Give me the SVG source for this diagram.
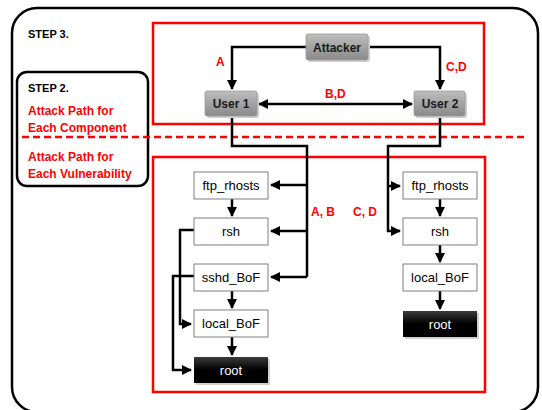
<svg xmlns="http://www.w3.org/2000/svg" width="542" height="410" viewBox="0 0 542 410">
<defs>
<linearGradient id="gg" x1="0" y1="0" x2="0" y2="1"><stop offset="0" stop-color="#bdbdbd"/><stop offset="1" stop-color="#8a8a8a"/></linearGradient>
<linearGradient id="bg" x1="0" y1="0" x2="0" y2="1"><stop offset="0" stop-color="#3a3a3a"/><stop offset="0.5" stop-color="#000"/><stop offset="1" stop-color="#000"/></linearGradient>
<marker id="ah" viewBox="0 0 10 10" refX="9" refY="5" markerWidth="4" markerHeight="4" orient="auto"><path d="M0,0 L10,5 L0,10 z" fill="#000"/></marker>
<marker id="ahs" viewBox="0 0 10 10" refX="9" refY="5" markerWidth="4" markerHeight="4" orient="auto-start-reverse"><path d="M0,0 L10,5 L0,10 z" fill="#000"/></marker>
</defs>
<style>
.lbl{font-family:"Liberation Sans",Arial,sans-serif;font-weight:bold;font-size:11px;fill:#000}
.red{font-family:"Liberation Sans",Arial,sans-serif;font-weight:bold;font-size:12px;fill:#ff0000}
.wb{fill:#fff;stroke:#7f7f7f;stroke-width:1}
.gb{fill:url(#gg);stroke:#999;stroke-width:0.8}
.sh{fill:#d0d0d0}
.bb{fill:url(#bg)}
.t{font-family:"Liberation Sans",Arial,sans-serif;font-size:13px;fill:#000;text-anchor:middle}
.tb{font-family:"Liberation Sans",Arial,sans-serif;font-size:12px;font-weight:bold;fill:#1a1a1a;text-anchor:middle}
.tw{font-family:"Liberation Sans",Arial,sans-serif;font-size:13px;fill:#fff;text-anchor:middle}
.c{fill:none;stroke:#000;stroke-width:2.5}
.rr{fill:none;stroke:#ff0000;stroke-width:2.5}
</style>
<rect x="12" y="8" width="526" height="404" rx="25" fill="#fff" stroke="#000" stroke-width="2.5"/>
<text class="lbl" x="28" y="38">STEP 3.</text>
<rect class="rr" x="153" y="23" width="331" height="101"/>
<rect class="rr" x="153" y="157" width="332" height="235"/>
<rect x="17" y="72" width="131" height="114" rx="10" fill="none" stroke="#000" stroke-width="2.5"/>
<text class="lbl" x="28" y="92">STEP 2.</text>
<text class="red" x="28" y="115">Attack Path for</text>
<text class="red" x="28" y="132">Each Component</text>
<text class="red" x="28" y="161">Attack Path for</text>
<text class="red" x="28" y="178">Each Vulnerability</text>
<line x1="22" y1="137" x2="528" y2="137" stroke="#ff0000" stroke-width="2.5" stroke-dasharray="7,4"/>
<g id="connectors">
<polyline class="c" points="306,47 232,47 232,89" marker-end="url(#ah)"/>
<polyline class="c" points="368,47 440,47 440,89" marker-end="url(#ah)"/>
<line class="c" x1="259" y1="104" x2="412" y2="104" marker-start="url(#ahs)" marker-end="url(#ah)"/>
<polyline class="c" points="232,117 232,146 307,146 307,277"/>
<line class="c" x1="307" y1="185" x2="271" y2="185" marker-end="url(#ah)"/>
<line class="c" x1="307" y1="231" x2="271" y2="231" marker-end="url(#ah)"/>
<line class="c" x1="307" y1="277" x2="271" y2="277" marker-end="url(#ah)"/>
<polyline class="c" points="440,117 440,146 388,146 388,231 400,231" marker-end="url(#ah)"/>
<line class="c" x1="388" y1="186" x2="400" y2="186" marker-end="url(#ah)"/>
<line class="c" x1="232" y1="199" x2="232" y2="216" marker-end="url(#ah)"/>
<line class="c" x1="232" y1="291" x2="232" y2="308" marker-end="url(#ah)"/>
<line class="c" x1="232" y1="337" x2="232" y2="355" marker-end="url(#ah)"/>
<polyline class="c" points="194,230 180,230 180,324 191,324" marker-end="url(#ah)"/>
<polyline class="c" points="194,276 173,276 173,370 191,370" marker-end="url(#ah)"/>
<line class="c" x1="440" y1="199" x2="440" y2="216" marker-end="url(#ah)"/>
<line class="c" x1="440" y1="245" x2="440" y2="262" marker-end="url(#ah)"/>
<line class="c" x1="440" y1="291" x2="440" y2="309" marker-end="url(#ah)"/>
</g>
<text class="red" x="216" y="66">A</text>
<text class="red" x="446" y="71">C,D</text>
<text class="red" x="325" y="98">B,D</text>
<text class="red" x="311" y="216">A, B</text>
<text class="red" x="353" y="216">C, D</text>
<g id="attacker"><rect class="sh" x="308" y="36" width="62" height="26" rx="2"/><rect class="gb" x="306" y="34" width="62" height="26" rx="2"/><text class="tb" x="337" y="52">Attacker</text></g>
<g id="user1"><rect class="sh" x="207" y="93" width="52" height="25" rx="2"/><rect class="gb" x="205" y="91" width="52" height="25" rx="2"/><text class="tb" x="231" y="108">User 1</text></g>
<g id="user2"><rect class="sh" x="416" y="93" width="51" height="25" rx="2"/><rect class="gb" x="414" y="91" width="51" height="25" rx="2"/><text class="tb" x="440" y="108">User 2</text></g>
<g id="l_ftp"><rect class="wb" x="194" y="172" width="74" height="27"/><text class="t" x="231" y="190">ftp_rhosts</text></g>
<g id="l_rsh"><rect class="wb" x="194" y="218" width="74" height="27"/><text class="t" x="231" y="236">rsh</text></g>
<g id="l_sshd"><rect class="wb" x="194" y="264" width="74" height="27"/><text class="t" x="231" y="282">sshd_BoF</text></g>
<g id="l_local"><rect class="wb" x="194" y="310" width="74" height="27"/><text class="t" x="231" y="328">local_BoF</text></g>
<g id="l_root"><rect class="sh" x="196" y="359" width="74" height="26"/><rect class="bb" x="194" y="357" width="74" height="26"/><text class="tw" x="231" y="375">root</text></g>
<g id="r_ftp"><rect class="wb" x="403" y="172" width="74" height="27"/><text class="t" x="440" y="190">ftp_rhosts</text></g>
<g id="r_rsh"><rect class="wb" x="403" y="218" width="74" height="27"/><text class="t" x="440" y="236">rsh</text></g>
<g id="r_local"><rect class="wb" x="403" y="264" width="74" height="27"/><text class="t" x="440" y="282">local_BoF</text></g>
<g id="r_root"><rect class="sh" x="405" y="313" width="74" height="26"/><rect class="bb" x="403" y="311" width="74" height="26"/><text class="tw" x="440" y="329">root</text></g>
</svg>
